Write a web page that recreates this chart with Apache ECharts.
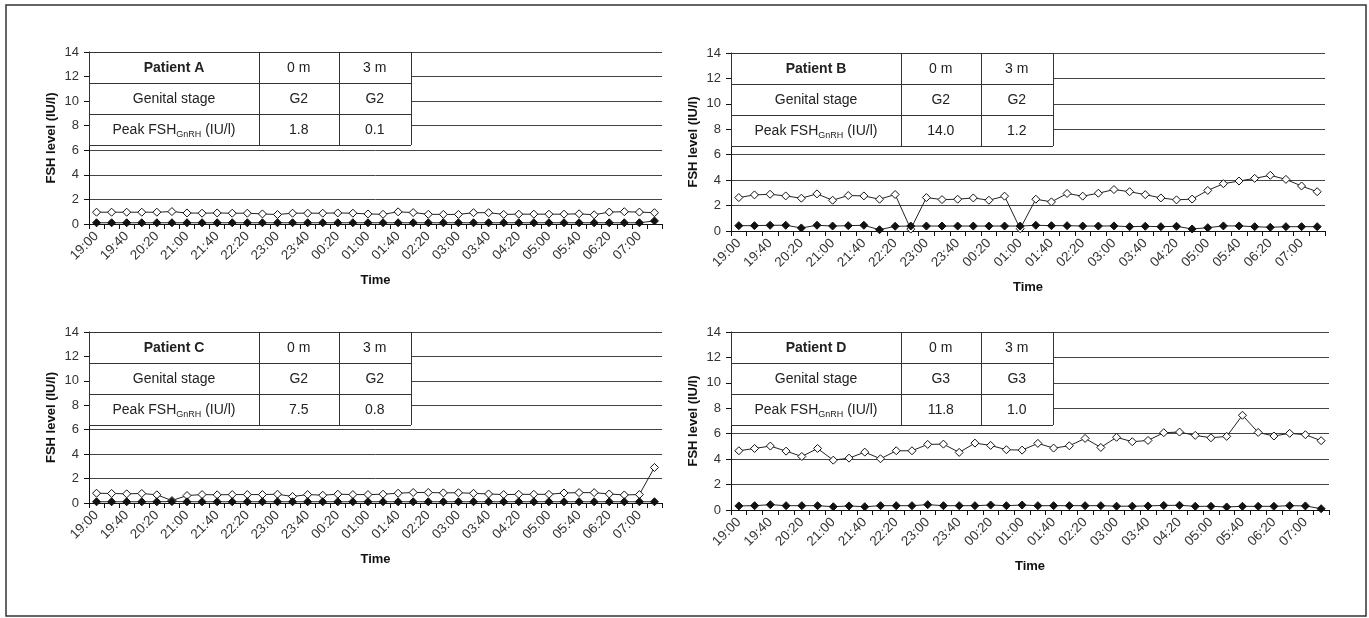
<!DOCTYPE html>
<html><head><meta charset="utf-8">
<script src="https://cdn.jsdelivr.net/npm/echarts@6.0.0/dist/echarts.min.js"></script>
<style>html,body{margin:0;padding:0;background:#fff}#c{width:1369px;height:618px}</style>
</head><body><div id="c"></div><script>
// ---- data ----
const categories = ['19:00','19:20','19:40','20:00','20:20','20:40','21:00','21:20','21:40','22:00','22:20','22:40','23:00','23:20','23:40','00:00','00:20','00:40','01:00','01:20','01:40','02:00','02:20','02:40','03:00','03:20','03:40','04:00','04:20','04:40','05:00','05:20','05:40','06:00','06:20','06:40','07:00','07:20'];
const yTicks = [0, 2, 4, 6, 8, 10, 12, 14];

const openA = [0.96,0.96,0.96,0.96,0.96,1.01,0.9,0.88,0.9,0.88,0.88,0.82,0.77,0.88,0.88,0.88,0.9,0.88,0.82,0.79,0.99,0.93,0.79,0.78,0.78,0.92,0.92,0.78,0.8,0.8,0.8,0.8,0.83,0.75,0.97,1.0,0.97,0.92];
const filledA = [0.1,0.1,0.1,0.1,0.1,0.1,0.1,0.1,0.1,0.1,0.1,0.1,0.1,0.1,0.1,0.1,0.1,0.1,0.1,0.1,0.1,0.1,0.1,0.1,0.1,0.1,0.1,0.1,0.1,0.1,0.1,0.1,0.1,0.1,0.1,0.1,0.1,0.25];

const openB = [2.63,2.84,2.89,2.76,2.58,2.92,2.42,2.79,2.76,2.5,2.87,0.15,2.63,2.47,2.5,2.6,2.42,2.74,0.18,2.5,2.29,2.95,2.74,2.97,3.26,3.09,2.86,2.6,2.45,2.51,3.19,3.72,3.93,4.14,4.38,4.06,3.54,3.09];
const filledB = [0.42,0.42,0.45,0.45,0.24,0.45,0.39,0.42,0.45,0.1,0.37,0.39,0.39,0.39,0.39,0.39,0.39,0.39,0.39,0.45,0.42,0.42,0.39,0.39,0.4,0.34,0.37,0.34,0.37,0.16,0.26,0.4,0.4,0.34,0.29,0.34,0.34,0.34];

const openC = [0.8,0.78,0.75,0.78,0.67,0.2,0.61,0.69,0.67,0.69,0.69,0.69,0.72,0.53,0.69,0.64,0.72,0.69,0.69,0.72,0.8,0.86,0.86,0.83,0.84,0.79,0.74,0.69,0.71,0.71,0.71,0.82,0.85,0.85,0.74,0.66,0.69,2.91];
const filledC = [0.1,0.1,0.1,0.1,0.1,0.12,0.1,0.1,0.1,0.1,0.1,0.1,0.1,0.1,0.1,0.1,0.1,0.1,0.1,0.1,0.1,0.1,0.1,0.1,0.1,0.1,0.1,0.1,0.1,0.1,0.1,0.1,0.1,0.1,0.1,0.1,0.1,0.1];

const openD = [4.66,4.84,5.03,4.63,4.21,4.84,3.92,4.08,4.55,4.03,4.66,4.66,5.16,5.18,4.53,5.26,5.08,4.74,4.71,5.24,4.87,5.05,5.63,4.92,5.72,5.37,5.47,6.08,6.13,5.87,5.68,5.79,7.45,6.1,5.82,6.03,5.92,5.45];
const filledD = [0.32,0.34,0.42,0.34,0.34,0.34,0.26,0.32,0.26,0.34,0.34,0.34,0.42,0.34,0.34,0.34,0.39,0.34,0.39,0.34,0.34,0.34,0.34,0.34,0.3,0.3,0.32,0.36,0.37,0.29,0.29,0.24,0.29,0.29,0.29,0.34,0.32,0.1];

const patientNames = ['Patient A','Patient B','Patient C','Patient D'];
const visitHeaders = ['0 m','3 m'];
const genitalStage0m = ['G2','G2','G2','G3'];
const genitalStage3m = ['G2','G2','G2','G3'];
const peakFsh0m = ['1.8','14.0','7.5','11.8'];
const peakFsh3m = ['0.1','1.2','0.8','1.0'];
const rowLabelGenital = 'Genital stage';
const rowLabelPeak = ['Peak FSH','GnRH',' (IU/l)'];
const xAxisTitle = 'Time';
const yAxisTitle = 'FSH level (IU/l)';

// ---- layout ----
const FONT = "'Liberation Sans', Arial, Helvetica, sans-serif";
const grids = [
  {left: 89, top: 52, width: 573, height: 172},
  {left: 731, top: 53, width: 594, height: 178},
  {left: 89, top: 332, width: 573, height: 171},
  {left: 731, top: 332, width: 598, height: 178}
];
const openSeries = [openA, openB, openC, openD];
const filledSeries = [filledA, filledB, filledC, filledD];
const colW = [170, 79.5, 72.5];
const rowH = 31;
const lineCol = '#333';
const TZ = 100;

const option = {
  animation: false,
  backgroundColor: '#fff',
  textStyle: {fontFamily: FONT},
  grid: grids.map(g => Object.assign({containLabel: false}, g)),
  xAxis: grids.map((g, i) => ({
    type: 'category', gridIndex: i, data: categories, boundaryGap: true,
    axisLine: {show: true, lineStyle: {color: '#111', width: 1}},
    axisTick: {show: true, interval: 0, length: 5, lineStyle: {color: '#111'}},
    axisLabel: {interval: 1, rotate: 45, fontSize: 13.5, color: '#333', fontFamily: FONT, margin: 10},
    splitLine: {show: false},
    name: xAxisTitle, nameLocation: 'middle', nameGap: 50,
    nameTextStyle: {fontSize: 13, fontWeight: 'bold', color: '#111', fontFamily: FONT}
  })),
  yAxis: grids.map((g, i) => ({
    type: 'value', gridIndex: i, min: yTicks[0], max: yTicks[yTicks.length - 1], interval: 2,
    axisLine: {show: true, lineStyle: {color: '#111', width: 1}},
    axisTick: {show: true, length: 5, lineStyle: {color: '#111'}},
    axisLabel: {fontSize: 13, color: '#333', fontFamily: FONT, margin: 10},
    splitLine: {show: true, lineStyle: {color: '#444', width: 1}},
    name: yAxisTitle, nameLocation: 'middle', nameRotate: 90, nameGap: 31,
    nameTextStyle: {fontSize: 13, fontWeight: 'bold', color: '#111', fontFamily: FONT}
  })),
  series: [],
  graphic: []
};

grids.forEach((g, i) => {
  option.series.push({
    type: 'line', xAxisIndex: i, yAxisIndex: i, data: openSeries[i],
    symbol: 'diamond', symbolSize: 8, showAllSymbol: true,
    lineStyle: {color: '#222', width: 1},
    itemStyle: {color: '#fff', borderColor: '#111', borderWidth: 1},
    z: 3
  });
  option.series.push({
    type: 'line', xAxisIndex: i, yAxisIndex: i, data: filledSeries[i],
    symbol: 'diamond', symbolSize: 8, showAllSymbol: true,
    lineStyle: {color: '#222', width: 1},
    itemStyle: {color: '#111', borderColor: '#111', borderWidth: 1},
    z: 4
  });
});

// tables
function tableElements(i) {
  const g = grids[i];
  const x0 = g.left, y0 = g.top;
  const W = colW[0] + colW[1] + colW[2];
  const H = rowH * 3;
  const els = [];
  els.push({type: 'rect', z: TZ, shape: {x: x0, y: y0, width: W, height: H}, style: {fill: '#fff', stroke: null}});
  for (let r = 0; r <= 3; r++) {
    els.push({type: 'line', z: TZ + 1, shape: {x1: x0, y1: y0 + r * rowH + 0.5, x2: x0 + W, y2: y0 + r * rowH + 0.5}, style: {stroke: lineCol, lineWidth: 1}});
  }
  const xs = [x0, x0 + colW[0], x0 + colW[0] + colW[1], x0 + W];
  xs.forEach(x => els.push({type: 'line', z: TZ + 1, shape: {x1: Math.round(x) + 0.5, y1: y0, x2: Math.round(x) + 0.5, y2: y0 + H}, style: {stroke: lineCol, lineWidth: 1}}));
  const cells = [
    [patientNames[i], visitHeaders[0], visitHeaders[1]],
    [rowLabelGenital, genitalStage0m[i], genitalStage3m[i]],
    [null, peakFsh0m[i], peakFsh3m[i]]
  ];
  cells.forEach((row, r) => row.forEach((txt, c) => {
    const cx = (xs[c] + xs[c + 1]) / 2;
    const cy = y0 + r * rowH + rowH / 2 + 1;
    if (txt === null) {
      els.push({type: 'text', z: TZ + 2, x: cx, y: cy, style: {
        text: '{n|' + rowLabelPeak[0] + '}{s|' + rowLabelPeak[1] + '}{n|' + rowLabelPeak[2] + '}',
        align: 'center', verticalAlign: 'middle',
        rich: {
          n: {fontSize: 14, fontFamily: FONT, fill: '#222', color: '#222'},
          s: {fontSize: 9, fontFamily: FONT, fill: '#222', color: '#222', padding: [8, 0, 0, 0]}
        }
      }});
    } else {
      els.push({type: 'text', z: TZ + 2, x: cx, y: cy, style: {
        text: txt, align: 'center', verticalAlign: 'middle', fill: '#222',
        fontSize: 14, fontFamily: FONT, fontWeight: (r === 0 && c === 0) ? 'bold' : 'normal'
      }});
    }
  }));
  return els;
}
grids.forEach((g, i) => { option.graphic.push(...tableElements(i)); });
option.graphic.push({type: 'rect', z: TZ, shape: {x: 6, y: 5, width: 1360, height: 611}, style: {fill: null, stroke: '#333', lineWidth: 1.5}});

const chart = echarts.init(document.getElementById('c'), null, {renderer: 'canvas'});
chart.setOption(option);
</script></body></html>
